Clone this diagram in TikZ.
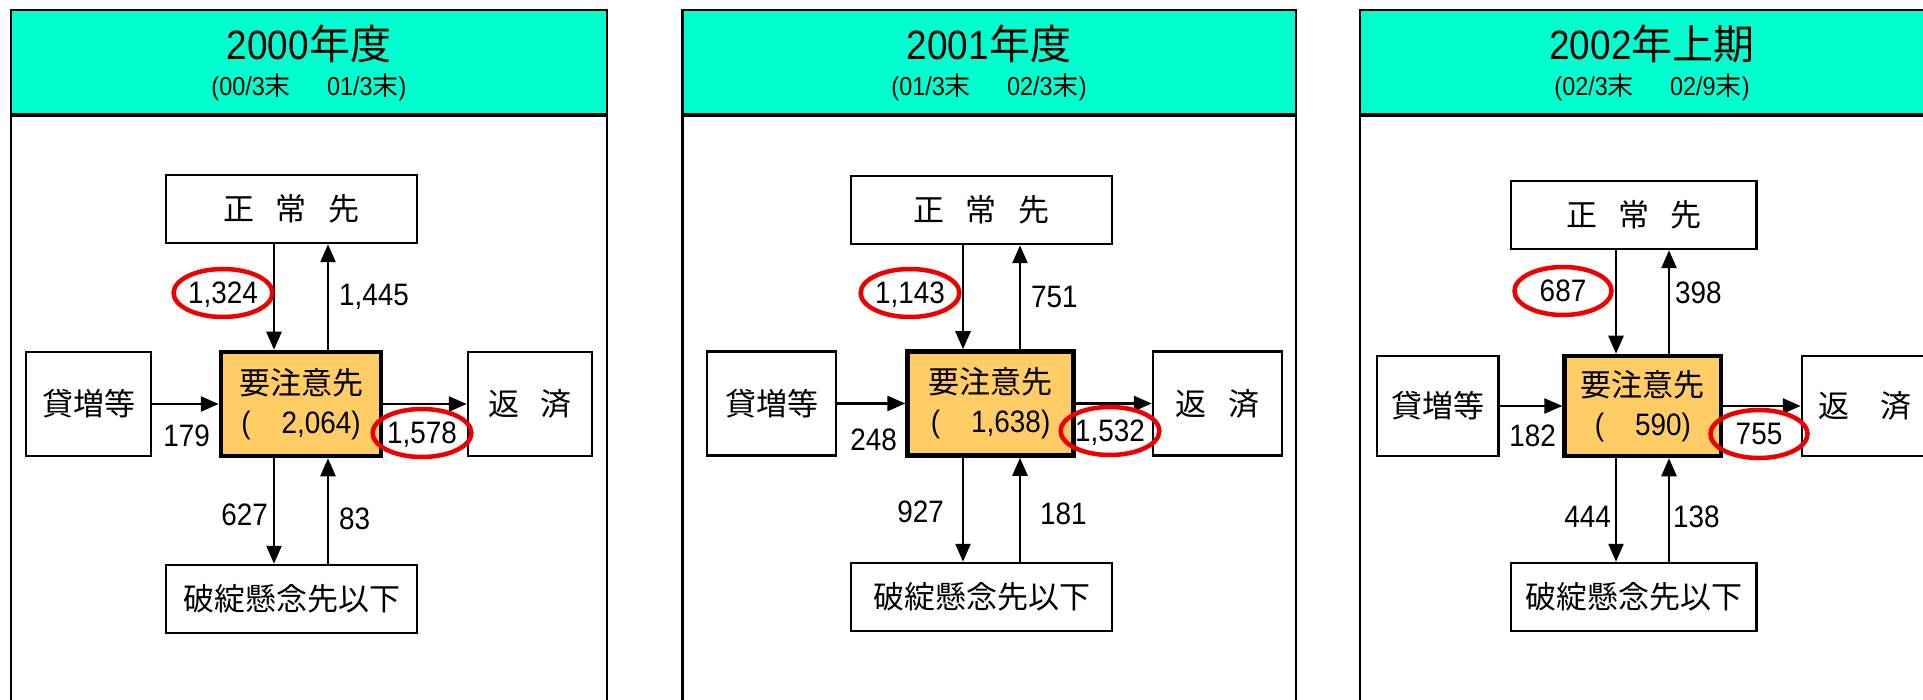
\documentclass[tikz,border=0pt]{standalone}
\usepackage{fontspec}
\setmainfont[FakeStretch=0.9]{Liberation Sans}
\newfontfamily\cjk{Noto Sans CJK JP}
\usetikzlibrary{arrows.meta,shapes.geometric}
\definecolor{headteal}{RGB}{0,255,206}
\definecolor{boxorange}{RGB}{255,204,102}
\definecolor{ringred}{RGB}{238,0,0}
\newcommand{\jsp}{\hspace{0.68em}}
\newcommand{\pgap}{\hspace{1.4em}}

\begin{document}
\begin{tikzpicture}[x=1pt, y=-1pt,
    box/.style={draw, line width=2.5pt, fill=white, inner sep=0pt, minimum height=68pt, font=\cjk\fontsize{31}{39}\selectfont},
    sidebox/.style={box, minimum height=104pt},
    keybox/.style={draw, line width=4.5pt, fill=boxorange, inner sep=0pt, minimum height=104pt, align=center, font=\fontsize{31}{39}\selectfont},
    flow/.style={-{Triangle[length=18pt, width=15pt]}, line width=2.5pt},
    num/.style={inner sep=0pt, font=\fontsize{31}{36}\selectfont},
    ring/.style={num, ellipse, text depth=0pt, draw=ringred, line width=4.5pt, minimum width=97pt, minimum height=48pt},
    panel/.style={draw, line width=2.5pt},
    divider/.style={line width=4.5pt},
    title/.style={font=\fontsize{41}{48}\selectfont},
    period/.style={font=\fontsize{26}{30}\selectfont}]

    \useasboundingbox (0,0) rectangle (1923,700);
    \clip (0,0) rectangle (1923,700);

    % 2000年度
    \draw[panel] (11,115) rectangle (607,730);
    \draw[panel, fill=headteal] (11,10) rectangle (607,115);
    \draw[divider] (11,115) -- (607,115);
    \node[title, anchor=base] (ttl1) at (309,60) {2000{\cjk 年度}};
    \node[period, anchor=base] (sub1) at (309,96) {(00/3{\cjk 末}\pgap 01/3{\cjk 末})};

    \node[box, minimum width=251pt] (sj1) at (291.5,209) {正\jsp 常\jsp 先};
    \node[keybox, minimum width=160pt] (ych1) at (301,404) {{\cjk 要注意先}\\({\cjk 　}2,064)};
    \node[sidebox, minimum width=125pt] (kz1) at (88.5,404) {貸増等};
    \node[sidebox, minimum width=124pt] (hs1) at (530,404) {返\jsp 済};
    \node[box, minimum width=251pt] (hk1) at (291.5,599) {破綻懸念先以下};

    \coordinate (dn1) at (274,0);
    \coordinate (up1) at (328,0);
    \draw[flow] (sj1.south -| dn1) -- (ych1.north -| dn1);
    \draw[flow] (ych1.north -| up1) -- (sj1.south -| up1);
    \draw[flow] (kz1) -- (ych1);
    \draw[flow] (ych1) -- (hs1);
    \draw[flow] (ych1.south -| dn1) -- (hk1.north -| dn1);
    \draw[flow] (hk1.north -| up1) -- (ych1.south -| up1);

    \node[ring] (in1) at (223,293) {1,324};
    \node[num, anchor=base west] (out1) at (339,305.5) {1,445};
    \node[num, anchor=base east] (new1) at (210,446.5) {179};
    \node[ring] (rep1) at (422,433) {1,578};
    \node[num, anchor=base east] (dg1) at (268,525.5) {627};
    \node[num, anchor=base west] (rc1) at (339,529) {83};

    % 2001年度
    \draw[panel] (682.5,115) rectangle (1296,730);
    \draw[panel, fill=headteal] (682.5,10) rectangle (1296,115);
    \draw[divider] (682.5,115) -- (1296,115);
    \node[title, anchor=base] (ttl2) at (989,60) {2001{\cjk 年度}};
    \node[period, anchor=base] (sub2) at (989,96) {(01/3{\cjk 末}\pgap 02/3{\cjk 末})};

    \node[box, minimum width=261pt] (sj2) at (981.5,210) {正\jsp 常\jsp 先};
    \node[keybox, minimum width=166pt] (ych2) at (990.6,403.5) {{\cjk 要注意先}\\({\cjk 　}1,638)};
    \node[sidebox, minimum width=129pt] (kz2) at (771.5,403.5) {貸増等};
    \node[sidebox, minimum width=129pt] (hs2) at (1217.5,403.5) {返\jsp 済};
    \node[box, minimum width=261pt] (hk2) at (981.5,597) {破綻懸念先以下};

    \coordinate (dn2) at (963,0);
    \coordinate (up2) at (1020,0);
    \draw[flow] (sj2.south -| dn2) -- (ych2.north -| dn2);
    \draw[flow] (ych2.north -| up2) -- (sj2.south -| up2);
    \draw[flow] (kz2) -- (ych2);
    \draw[flow] (ych2) -- (hs2);
    \draw[flow] (ych2.south -| dn2) -- (hk2.north -| dn2);
    \draw[flow] (hk2.north -| up2) -- (ych2.south -| up2);

    \node[ring] (in2) at (910,293) {1,143};
    \node[num, anchor=base west] (out2) at (1031,307.5) {751};
    \node[num, anchor=base east] (new2) at (897,450.5) {248};
    \node[ring] (rep2) at (1110,431) {1,532};
    \node[num, anchor=base east] (dg2) at (944,522.5) {927};
    \node[num, anchor=base west] (rc2) at (1040,524.5) {181};

    % 2002年上期
    \draw[panel] (1360,115) rectangle (1945,730);
    \draw[panel, fill=headteal] (1360,10) rectangle (1945,115);
    \draw[divider] (1360,115) -- (1945,115);
    \node[title, anchor=base] (ttl3) at (1652,60) {2002{\cjk 年上期}};
    \node[period, anchor=base] (sub3) at (1652,96) {(02/3{\cjk 末}\pgap 02/9{\cjk 末})};

    \node[box, minimum width=245.5pt] (sj3) at (1633.75,215) {正\jsp 常\jsp 先};
    \node[keybox, minimum width=156.4pt, minimum height=100pt] (ych3) at (1642.8,406) {{\cjk 要注意先}\\({\cjk 　}590)};
    \node[sidebox, minimum width=121.5pt, minimum height=100pt] (kz3) at (1437.75,406) {貸増等};
    \node[sidebox, minimum width=125pt, minimum height=100pt] (hs3) at (1864.5,406) {返　済};
    \node[box, minimum width=245.5pt] (hk3) at (1633.75,597) {破綻懸念先以下};

    \coordinate (dn3) at (1616,0);
    \coordinate (up3) at (1669,0);
    \draw[flow] (sj3.south -| dn3) -- (ych3.north -| dn3);
    \draw[flow] (ych3.north -| up3) -- (sj3.south -| up3);
    \draw[flow] (kz3) -- (ych3);
    \draw[flow] (ych3) -- (hs3);
    \draw[flow] (ych3.south -| dn3) -- (hk3.north -| dn3);
    \draw[flow] (hk3.north -| up3) -- (ych3.south -| up3);

    \node[ring] (in3) at (1563,291) {687};
    \node[num, anchor=base west] (out3) at (1675,303.5) {398};
    \node[num, anchor=base east] (new3) at (1556,446.5) {182};
    \node[ring] (rep3) at (1759,434) {755};
    \node[num, anchor=base east] (dg3) at (1611,527.5) {444};
    \node[num, anchor=base west] (rc3) at (1673,527.5) {138};
\end{tikzpicture}
\end{document}
